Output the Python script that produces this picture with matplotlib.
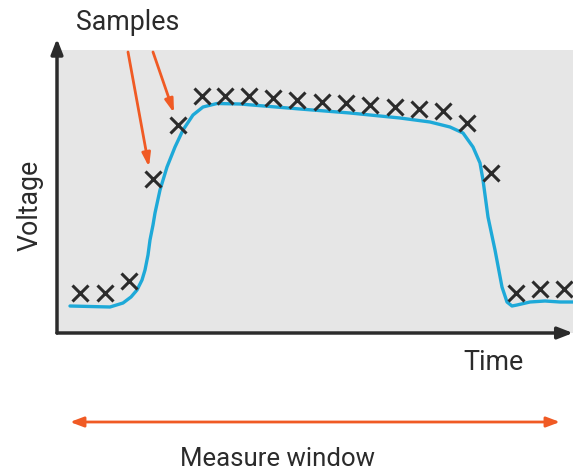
import matplotlib.pyplot as plt
import numpy as np

plt.rcParams['font.family'] = ['Roboto', 'DejaVu Sans']

# sampled points (time, voltage)
sample_t = [23, 48, 72, 96, 121, 145, 168, 192, 216, 240, 265, 289, 313, 338, 362, 386, 410, 434, 459, 483, 507]
sample_v = [40, 40, 52, 154, 208, 237, 237, 237, 235, 233, 231, 230, 228, 226, 224, 222, 210, 160, 40, 44, 44]

# the analog signal
signal_t = [13, 33, 53, 66, 74, 80, 85, 88, 91, 93, 96, 98, 103, 110, 118, 126, 136, 146, 160, 183,
            243, 293, 343, 373, 393, 406, 416, 423, 426, 431, 438, 445, 450, 455, 460, 473, 488, 503, 516]
signal_v = [27, 26.5, 26, 30, 36, 43, 53, 63, 78, 93, 108, 120, 143, 166, 186, 203, 218, 226, 229.5, 229,
            224, 220, 215, 211, 206, 200, 186, 170, 153, 116, 83, 46, 31, 27, 28, 31, 32, 31, 31]

orange = '#f05a24'
dark = '#2b2b2b'

fig = plt.figure(figsize=(5.73, 4.72), dpi=100)
ax = fig.add_axes([57 / 573, (472 - 333) / 472, 516 / 573, 283 / 472])
ax.set_facecolor('#e6e6e6')
ax.set_xlim(0, 516)
ax.set_ylim(0, 283)
for s in ax.spines.values():
    s.set_visible(False)
ax.set_xticks([])
ax.set_yticks([])

ax.plot(signal_t, signal_v, color='#1ea9d8', lw=2.4, solid_capstyle='round', clip_on=False)
ax.plot(sample_t, sample_v, ls='none', marker='x', ms=11, mew=2.2, color=dark, clip_on=False)

# axes with arrow heads
ax.annotate('', xy=(0, 1.04), xytext=(0, 0), xycoords='axes fraction',
            arrowprops=dict(arrowstyle='-|>,head_length=0.9,head_width=0.35', color=dark, lw=2.5,
                            shrinkA=0, shrinkB=0), annotation_clip=False)
ax.annotate('', xy=(1.0, 0), xytext=(0, 0), xycoords='axes fraction',
            arrowprops=dict(arrowstyle='-|>,head_length=0.9,head_width=0.35', color=dark, lw=2.5,
                            shrinkA=0, shrinkB=0), annotation_clip=False)

# arrows from the "Samples" label to two samples
for i, tail in [(3, (71, 281)), (4, (96, 281))]:
    ax.annotate('', xy=(sample_t[i] - 4, sample_v[i] + 12), xytext=tail,
                arrowprops=dict(arrowstyle='-|>,head_length=0.8,head_width=0.25', color=orange, lw=2,
                                shrinkA=0, shrinkB=0), annotation_clip=False)

fig.text(128 / 573, 1 - 22 / 472, 'Samples', ha='center', va='center', fontsize=19.3, color=dark)
fig.text(30 / 573, 1 - 205 / 472, 'Voltage', ha='center', va='center', rotation=90, fontsize=19.3, color=dark)
fig.text(493 / 573, 1 - 363 / 472, 'Time', ha='center', va='center', fontsize=19.3, color=dark)
fig.text(278 / 573, 1 - 459 / 472, 'Measure window', ha='center', va='center', fontsize=18.5, color=dark)

# measure window double arrow
ax.annotate('', xy=(70 / 573, 1 - 422 / 472), xytext=(560 / 573, 1 - 422 / 472),
            xycoords='figure fraction',
            arrowprops=dict(arrowstyle='<|-|>,head_length=0.8,head_width=0.3', color=orange, lw=2,
                            shrinkA=0, shrinkB=0), annotation_clip=False)

fig.savefig('out.png', dpi=100)
